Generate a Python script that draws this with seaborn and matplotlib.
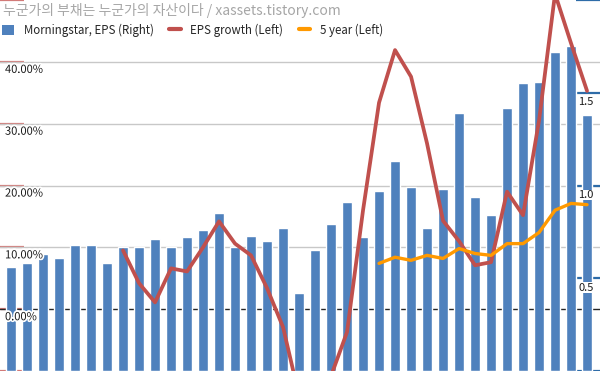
import numpy as np
import pandas as pd
import matplotlib
matplotlib.use('Agg')
import matplotlib.pyplot as plt
import matplotlib.patheffects as pe
from matplotlib.lines import Line2D
from matplotlib.patches import Patch
import seaborn as sns

title = "누군가의 부채는 누군가의 자산이다 / xassets.tistory.com"
series_names = ["Morningstar, EPS (Right)", "EPS growth (Left)", "5 year (Left)"]

# 37 periods, bars = Morningstar EPS (right axis)
period = list(range(37))
eps = [0.56, 0.58, 0.63, 0.61, 0.68, 0.68, 0.58, 0.67, 0.67, 0.71,
       0.67, 0.72, 0.76, 0.85, 0.67, 0.73, 0.70, 0.77, 0.42, 0.65,
       0.79, 0.91, 0.72, 0.97, 1.13, 0.99, 0.77, 0.98, 1.39, 0.94,
       0.84, 1.42, 1.55, 1.56, 1.72, 1.75, 1.38]

# EPS growth in %, starts at period 7
growth_period = list(range(7, 37))
growth = [9.5, 4.2, 1.1, 6.6, 6.1, 10.0, 14.2, 10.6, 8.7, 3.4,
          -2.9, -14.0, -30.0, -10.8, -3.7, 16.0, 33.4, 41.9, 37.6, 26.8,
          14.3, 11.0, 7.1, 7.6, 19.0, 15.2, 30.5, 51.0, 43.0, 35.3]

# 5 year growth in %, starts at period 23
avg_period = list(range(23, 37))
avg5 = [7.4, 8.4, 7.9, 8.7, 8.2, 9.8, 9.0, 8.7, 10.6, 10.6, 12.4, 16.0, 17.1, 16.9]

left_ticks = [-10, 0, 10, 20, 30, 40, 50]
grid_ticks = [10, 20, 30, 40]
left_labels = [0, 10, 20, 30, 40]
right_ticks = [0, 0.5, 1.0, 1.5, 2.0]
right_labels = [0.5, 1.0, 1.5]

BLUE = '#4f81bd'
RED = '#c0504d'
ORANGE = '#ff9900'

sns.set_style('white')
plt.rcParams['font.family'] = ['Noto Sans CJK KR', 'DejaVu Sans']

fig = plt.figure(figsize=(6, 3.71), dpi=100)
ax = fig.add_axes([0, 0, 1, 1])
ax2 = ax.twinx()
ax3 = ax.twinx()

# left axis: grid + zero line + red ticks
ax.set_ylim(-10, 50)
ax.set_yticks(left_ticks)
ax.grid(False)
for g in grid_ticks:
    ax.axhline(g, color='#c8c8c8', lw=1)
ax.axhline(0, color='#262626', lw=1)
ax.tick_params(axis='y', direction='in', length=17, width=1.6,
               color='#d27a78', labelleft=False)

# bars on the right axis
df = pd.DataFrame({'period': period, 'eps': eps})
sns.barplot(data=df, x='period', y='eps', ax=ax2, color=BLUE,
            saturation=1, width=0.68)
ax2.set_ylim(0, 2)
ax2.set_yticks(right_ticks)
ax2.grid(False)
ax2.tick_params(axis='y', direction='in', length=17, width=1.6,
                color='#2e6ca8', labelright=False)

# growth lines on top
sns.lineplot(x=growth_period, y=growth, ax=ax3, color=RED, lw=2.7)
sns.lineplot(x=avg_period, y=avg5, ax=ax3, color=ORANGE, lw=2.4)
ax3.set_ylim(-10, 50)
ax3.set_yticks([])
ax3.grid(False)

for a in (ax, ax2, ax3):
    for s in a.spines.values():
        s.set_visible(False)
    a.set_xlabel('')
    a.set_ylabel('')
    a.tick_params(axis='x', bottom=False, labelbottom=False)
ax.set_xlim(-0.69, 36.81)

for v in left_labels:
    ax3.annotate(f'{v:.2f}%', xy=(0, v), xycoords=('axes fraction', 'data'),
                 xytext=(3.6, -2.2), textcoords='offset points',
                 ha='left', va='top', fontsize=8, color='#1a1a1a',
                 path_effects=[pe.withStroke(linewidth=2.5, foreground='white')])

for v in right_labels:
    ax3.annotate(f'{v:.1f}', xy=(1, (v / 2) * 60 - 10), xycoords=('axes fraction', 'data'),
                 xytext=(-15.8, -3.2), textcoords='offset points',
                 ha='left', va='top', fontsize=8, color='#1a1a1a',
                 bbox=dict(facecolor='white', edgecolor='none', pad=0.3))

handles = [Patch(facecolor=BLUE, edgecolor='none'),
           Line2D([], [], color=RED, lw=3),
           Line2D([], [], color=ORANGE, lw=3)]
ax3.legend(handles, series_names, loc='center left', ncol=3,
           bbox_to_anchor=(0.0, 1 - 30 / 371), bbox_transform=fig.transFigure,
           frameon=False, fontsize=8.3, handlelength=1.0, handleheight=1.0,
           handletextpad=0.85, columnspacing=1.35, borderpad=0.2, borderaxespad=0)

fig.text(3 / 600, 1 - 10 / 371, title, color='#a6a6a6', fontsize=10,
         ha='left', va='center')

fig.savefig('out.png', dpi=100)
